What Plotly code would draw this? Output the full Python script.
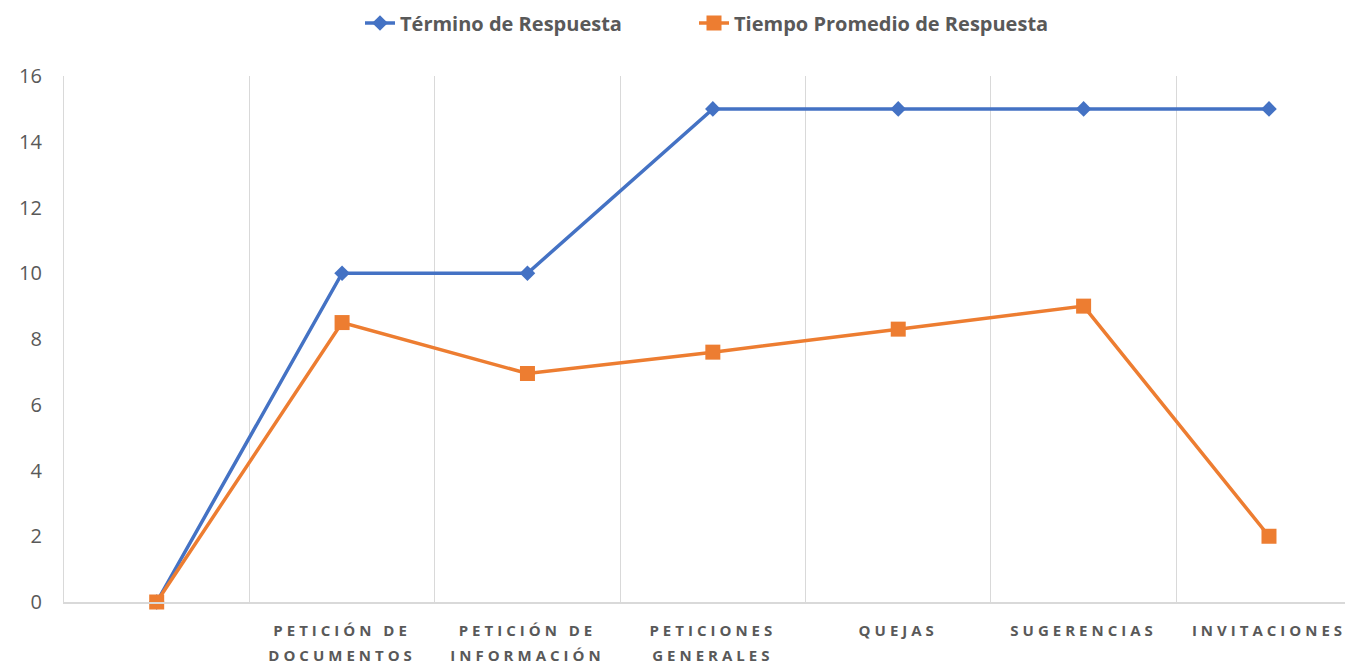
import plotly.graph_objects as go

categorias = ["", "PETICIÓN DE<br>DOCUMENTOS", "PETICIÓN DE<br>INFORMACIÓN",
              "PETICIONES<br>GENERALES", "QUEJAS", "SUGERENCIAS", "INVITACIONES"]
termino = [0, 10, 10, 15, 15, 15, 15]
promedio = [0, 8.5, 6.95, 7.6, 8.3, 9.0, 2.0]

posiciones = list(range(len(categorias)))

fig = go.Figure()
fig.add_trace(go.Scatter(
    x=posiciones, y=termino, mode="lines+markers", name="Término de Respuesta",
    line=dict(color="#4472C4", width=3.5), cliponaxis=False,
    marker=dict(symbol="diamond", size=12, color="#4472C4"),
    legend="legend",
))
fig.add_trace(go.Scatter(
    x=posiciones, y=promedio, mode="lines+markers", name="Tiempo Promedio de Respuesta",
    line=dict(color="#ED7D31", width=3.5), cliponaxis=False,
    marker=dict(symbol="square", size=15, color="#ED7D31"),
    legend="legend2",
))

leyenda_font = dict(size=20, family="Open Sans", weight="bold", color="#595959")
fig.update_layout(
    width=1345, height=665,
    margin=dict(l=64, r=0, t=76, b=63, autoexpand=False),
    plot_bgcolor="white", paper_bgcolor="white",
    font=dict(family="Open Sans", color="#595959"),
    legend=dict(orientation="h", xref="container", yref="container",
                x=360 / 1345, xanchor="left", y=1 - 23 / 665, yanchor="middle",
                font=leyenda_font),
    legend2=dict(orientation="h", xref="container", yref="container",
                 x=694 / 1345, xanchor="left", y=1 - 23 / 665, yanchor="middle",
                 font=leyenda_font),
    showlegend=True,
)
fig.update_xaxes(
    range=[-0.5, 6.41], tickvals=posiciones, ticktext=[f"<b>{c}</b>" for c in categorias],
    tickfont=dict(size=15, color="#595959"), tickangle=0, automargin=False,
    ticklabelstandoff=14,
    showgrid=False, zeroline=False,
    showline=True, linecolor="#d9d9d9", linewidth=1.5,
    minor=dict(tick0=0.5, dtick=1, showgrid=True, gridcolor="#d9d9d9", gridwidth=1.3),
)
fig.update_yaxes(
    range=[0, 16], dtick=2, showgrid=False, zeroline=False,
    showline=True, linecolor="#d9d9d9", linewidth=1.3,
    automargin=False,
    tickfont=dict(size=20, color="#595959"), ticklabelstandoff=17,
)

post = """
document.body.style.margin = '0';
var s = document.createElement('style');
s.innerHTML = '.xtick text {letter-spacing: 4px;}';
document.head.appendChild(s);
document.querySelectorAll('.xtick text tspan.line').forEach(function (t) {
    var d = parseFloat(t.getAttribute('dy'));
    if (d > 0) t.setAttribute('dy', (d * 1.3) + 'em');
});
"""
fig.write_html("out.html", post_script=post, config={"displayModeBar": False})
